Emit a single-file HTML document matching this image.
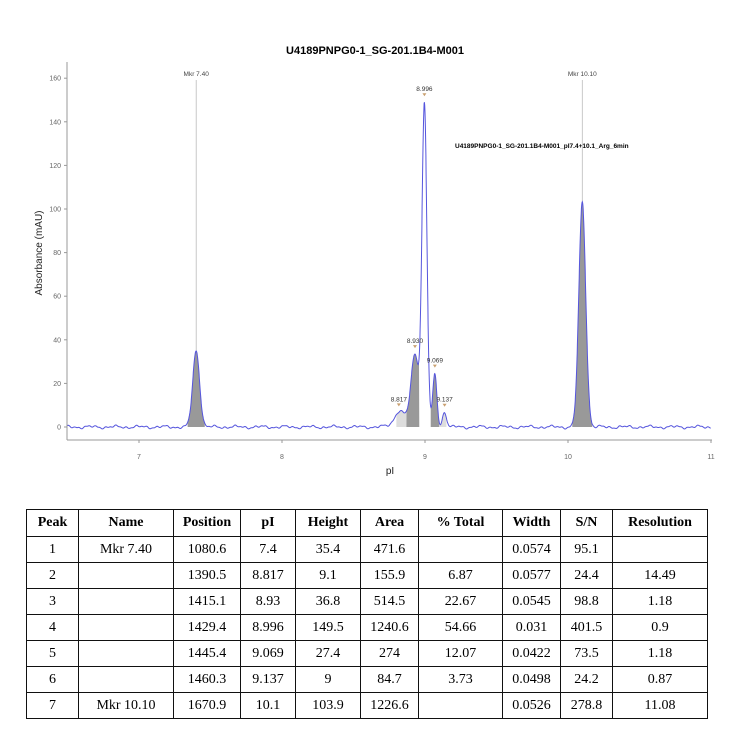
<!DOCTYPE html>
<html><head><meta charset="utf-8">
<style>
body{margin:0;background:#fff;width:749px;height:743px;overflow:hidden;font-family:"Liberation Sans",sans-serif}
svg{position:absolute;left:0;top:0}
table{position:absolute;left:26px;top:509px;border-collapse:collapse;font-family:"Liberation Serif",serif;font-size:14px}
td,th{border:1.3px solid #111;text-align:center;padding:0;height:25px}
th{font-weight:bold;height:26px}
</style></head><body>
<svg id="s" width="749" height="500" viewBox="0 0 749 500">
<text x="375" y="54" text-anchor="middle" font-size="11" font-weight="bold" font-family="Liberation Sans">U4189PNPG0-1_SG-201.1B4-M001</text>
<text x="455" y="148" font-size="6.5" font-weight="bold" font-family="Liberation Sans">U4189PNPG0-1_SG-201.1B4-M001_pI7.4+10.1_Arg_6min</text>
<g id="g"></g>
<text x="390" y="474" text-anchor="middle" font-size="10" font-family="Liberation Sans" fill="#222">pI</text>
<text transform="translate(42,253) rotate(-90)" text-anchor="middle" font-size="10" font-family="Liberation Sans" fill="#222">Absorbance (mAU)</text>
</svg>
<table>
<tr><th style="width:51px">Peak</th><th style="width:94px">Name</th><th style="width:66px">Position</th><th style="width:54px">pI</th><th style="width:64px">Height</th><th style="width:57px">Area</th><th style="width:83px">% Total</th><th style="width:57px">Width</th><th style="width:51px">S/N</th><th style="width:94px">Resolution</th></tr>
<tr><td>1</td><td>Mkr 7.40</td><td>1080.6</td><td>7.4</td><td>35.4</td><td>471.6</td><td></td><td>0.0574</td><td>95.1</td><td></td></tr>
<tr><td>2</td><td></td><td>1390.5</td><td>8.817</td><td>9.1</td><td>155.9</td><td>6.87</td><td>0.0577</td><td>24.4</td><td>14.49</td></tr>
<tr><td>3</td><td></td><td>1415.1</td><td>8.93</td><td>36.8</td><td>514.5</td><td>22.67</td><td>0.0545</td><td>98.8</td><td>1.18</td></tr>
<tr><td>4</td><td></td><td>1429.4</td><td>8.996</td><td>149.5</td><td>1240.6</td><td>54.66</td><td>0.031</td><td>401.5</td><td>0.9</td></tr>
<tr><td>5</td><td></td><td>1445.4</td><td>9.069</td><td>27.4</td><td>274</td><td>12.07</td><td>0.0422</td><td>73.5</td><td>1.18</td></tr>
<tr><td>6</td><td></td><td>1460.3</td><td>9.137</td><td>9</td><td>84.7</td><td>3.73</td><td>0.0498</td><td>24.2</td><td>0.87</td></tr>
<tr><td>7</td><td>Mkr 10.10</td><td>1670.9</td><td>10.1</td><td>103.9</td><td>1226.6</td><td></td><td>0.0526</td><td>278.8</td><td>11.08</td></tr>
</table>
<script>
const X=p=>67.5+(p-6.5)*143, Y=v=>427-v*2.18;
const pk=[[7.4,35,0.024],[8.817,5,0.03],[8.93,30,0.026],[8.996,146,0.017],[9.069,24,0.014],[9.137,7,0.014],[10.1,103,0.024]];
function f(p){let v=0;for(const[c,h,s]of pk)v+=h*Math.exp(-((p-c)**2)/(2*s*s));
v+=4*Math.exp(-((p-8.9)**2)/(2*0.08**2));
v+=0.45*Math.sin(p*37)+0.3*Math.sin(p*91+1)+0.2*Math.sin(p*173);return v;}
let h='';
h+=`<line x1="67" y1="62" x2="67" y2="440" stroke="#999"/><line x1="67" y1="440" x2="712" y2="440" stroke="#999"/>`;
for(let v=0;v<=160;v+=20){h+=`<line x1="64" x2="67" y1="${Y(v)}" y2="${Y(v)}" stroke="#999"/><text x="61" y="${Y(v)+2.5}" font-size="7" text-anchor="end" fill="#666">${v}</text>`;}
for(let p=7;p<=11;p++){h+=`<line x1="${X(p)}" x2="${X(p)}" y1="440" y2="443" stroke="#999"/><text x="${X(p)}" y="459" font-size="7" text-anchor="middle" fill="#666">${p}</text>`;}
h+=`<line x1="${X(7.4)}" x2="${X(7.4)}" y1="80" y2="427" stroke="#bbb" stroke-width="0.8"/><text x="${X(7.4)}" y="76" font-size="6.5" text-anchor="middle" fill="#444">Mkr 7.40</text>`;
h+=`<line x1="${X(10.1)}" x2="${X(10.1)}" y1="80" y2="427" stroke="#bbb" stroke-width="0.8"/><text x="${X(10.1)}" y="76" font-size="6.5" text-anchor="middle" fill="#444">Mkr 10.10</text>`;
function fill(a,b,c){let d=`M${X(a)},${Y(0)}`;for(let p=a;p<=b;p+=0.002)d+=`L${X(p)},${Y(f(p))}`;d+=`L${X(b)},${Y(0)}Z`;h+=`<path d="${d}" fill="${c}"/>`;}
fill(7.34,7.46,'#999');fill(8.80,8.87,'#ddd');fill(8.87,8.96,'#999');fill(9.04,9.10,'#999');fill(9.10,9.15,'#ddd');fill(10.03,10.17,'#999');
let d='';for(let p=6.5;p<=11;p+=0.002)d+=(d?'L':'M')+X(p).toFixed(1)+','+Y(f(p)).toFixed(1);
h+=`<path d="${d}" fill="none" stroke="#5555dd" stroke-width="1"/>`;
const lab=[[8.817,'8.817'],[8.93,'8.930'],[8.996,'8.996'],[9.069,'9.069'],[9.137,'9.137']];
for(const[p,t]of lab){const y=Y(f(p))-6;h+=`<path d="M${X(p)-2},${y-3}L${X(p)+2},${y-3}L${X(p)},${y}Z" fill="#c9a070"/><text x="${X(p)}" y="${y-5}" font-size="6.5" text-anchor="middle" fill="#333">${t}</text>`;}
document.getElementById('g').innerHTML=h;
</script>
</body></html>
